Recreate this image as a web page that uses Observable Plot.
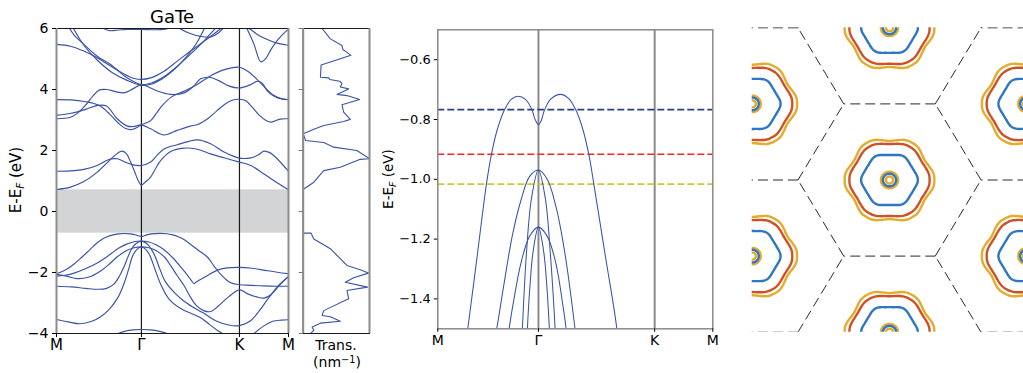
<!DOCTYPE html>
<html><head><meta charset="utf-8">
<script src="https://cdn.jsdelivr.net/npm/d3@7"></script>
<script src="https://cdn.jsdelivr.net/npm/@observablehq/plot@0.6"></script>
<style>
html,body{margin:0;padding:0;background:#fff;overflow:hidden;}
#root{position:relative;width:1023px;height:373px;overflow:hidden;font-family:"DejaVu Sans",sans-serif;color:#000;}
.lbl{position:absolute;white-space:nowrap;line-height:1;}
.sub{font-size:0.7em;font-style:italic;position:relative;top:0.28em;}
.sup{font-size:0.7em;position:relative;top:-0.45em;}
</style></head>
<body><div id="root"></div>
<script>
// ---------- path labels ----------
const kLabels = ["M", "Γ", "K", "M"];
const kTicks = [0, 0.5774, 1.2440, 1.5774];
const yTicksFull = [-4, -2, 0, 2, 4, 6];
const yTicksZoom = [-1.4, -1.2, -1.0, -0.8, -0.6];
const bandGap = [-0.71, 0.71];
const fermiLevels = [-0.767, -0.916, -1.016];

// ---------- valence bands [k, E] ----------
const vA = [[0,-2.04],[0.06,-1.92],[0.12,-1.72],[0.172,-1.5],[0.226,-1.256],[0.279,-1.016],[0.308,-0.916],[0.34,-0.836],[0.384,-0.766],[0.421,-0.733],[0.461,-0.722],[0.503,-0.733],[0.541,-0.769],[0.556,-0.797],[0.577,-0.817],[0.595,-0.801],[0.608,-0.775],[0.646,-0.733],[0.704,-0.716],[0.751,-0.730],[0.790,-0.766],[0.828,-0.825],[0.866,-0.916],[0.895,-1.016],[0.962,-1.26],[1.027,-1.5],[1.07,-1.78],[1.12,-2.08],[1.18,-2.33],[1.244,-2.40],[1.32,-2.42],[1.41,-2.44],[1.50,-2.45],[1.577,-2.45]];
const vB1 = [[0,-2.12],[0.05,-2.10],[0.12,-2.02],[0.2,-1.87],[0.28,-1.68],[0.338,-1.5],[0.377,-1.36],[0.427,-1.19],[0.477,-1.07],[0.527,-0.99],[0.577,-0.969],[0.627,-0.999],[0.677,-1.09],[0.727,-1.24],[0.787,-1.5],[0.85,-1.85],[0.90,-2.15],[0.92,-2.28],[0.935,-2.36],[0.95,-2.31],[1.02,-2.12],[1.09,-1.93],[1.16,-1.85],[1.244,-1.83],[1.33,-1.86],[1.42,-1.93],[1.50,-1.99],[1.577,-2.04]];
const vC1 = [[0,-2.06],[0.07,-2.12],[0.14,-2.2],[0.22,-2.15],[0.30,-1.95],[0.36,-1.72],[0.409,-1.5],[0.437,-1.40],[0.477,-1.28],[0.527,-1.19],[0.577,-1.16],[0.627,-1.19],[0.677,-1.28],[0.717,-1.42],[0.736,-1.5],[0.78,-1.8],[0.82,-2.1],[0.87,-2.45],[0.91,-2.8],[0.95,-3.08],[1.0,-3.25],[1.048,-3.28],[1.1,-3.1],[1.17,-2.8],[1.244,-2.57],[1.30,-2.7],[1.36,-2.8],[1.41,-2.84],[1.46,-2.72],[1.52,-2.4],[1.577,-2.12]];
const vB2 = [[0,-2.45],[0.1,-2.47],[0.2,-2.52],[0.28,-2.55],[0.34,-2.52],[0.39,-2.38],[0.43,-2.1],[0.46,-1.8],[0.485,-1.5],[0.507,-1.26],[0.537,-1.065],[0.577,-0.969],[0.617,-1.065],[0.647,-1.26],[0.673,-1.5],[0.70,-1.85],[0.74,-2.3],[0.80,-2.65],[0.87,-2.95],[0.95,-3.2],[1.0,-3.33],[1.09,-3.6],[1.17,-3.72],[1.244,-3.74],[1.32,-3.58],[1.38,-3.25],[1.44,-2.85],[1.51,-2.42],[1.577,-2.14]];
const vC2 = [[0,-3.54],[0.08,-3.62],[0.16,-3.68],[0.24,-3.6],[0.30,-3.45],[0.36,-3.2],[0.42,-2.8],[0.46,-2.35],[0.49,-1.9],[0.514,-1.5],[0.527,-1.37],[0.547,-1.24],[0.577,-1.16],[0.607,-1.24],[0.627,-1.37],[0.640,-1.5],[0.67,-1.9],[0.71,-2.4],[0.77,-2.9],[0.85,-3.2],[0.92,-3.35],[0.98,-3.48],[1.04,-3.7],[1.10,-3.92],[1.15,-4.05],[1.2,-4.2]];
const vC2b = [[1.30,-4.2],[1.343,-4.0],[1.41,-3.75],[1.47,-3.6],[1.53,-3.56],[1.577,-3.55]];
const vD = [[0.38,-4.15],[0.42,-4.0],[0.47,-3.92],[0.52,-3.88],[0.577,-3.87],[0.64,-3.88],[0.70,-3.93],[0.75,-4.0],[0.79,-4.15]];

// ---------- conduction bands [k, E] ----------
const c1 = [[0,0.72],[0.095,0.80],[0.186,0.98],[0.277,1.29],[0.368,1.71],[0.42,1.93],[0.447,1.98],[0.475,1.9],[0.504,1.62],[0.53,1.32],[0.552,1.05],[0.577,0.86],[0.60,0.95],[0.64,1.13],[0.675,1.42],[0.708,1.67],[0.776,1.97],[0.867,2.08],[0.958,2.04],[1.048,1.89],[1.139,1.76],[1.244,1.62],[1.321,1.51],[1.411,1.23],[1.50,0.94],[1.577,0.72]];
const c2 = [[0,1.32],[0.095,1.33],[0.186,1.38],[0.277,1.51],[0.34,1.67],[0.368,1.72],[0.413,1.73],[0.458,1.64],[0.52,1.53],[0.577,1.51],[0.64,1.62],[0.685,1.85],[0.731,2.05],[0.821,2.19],[0.90,2.3],[0.958,2.35],[1.048,2.22],[1.139,1.95],[1.244,1.75],[1.321,1.76],[1.37,1.85],[1.411,1.98],[1.45,1.93],[1.50,1.73],[1.577,1.32]];
const u1 = [[0,3.67],[0.1,3.66],[0.2,3.6],[0.25,3.55],[0.30,3.45],[0.36,3.2],[0.42,2.9],[0.47,2.72],[0.515,2.69],[0.55,2.76],[0.577,2.84],[0.64,2.98],[0.685,3.26],[0.72,3.48],[0.78,3.75],[0.87,3.95],[0.94,4.12],[1.0,4.3],[1.06,4.48],[1.12,4.62],[1.19,4.71],[1.244,4.73],[1.30,4.6],[1.36,4.35],[1.42,4.05],[1.48,3.8],[1.53,3.7],[1.577,3.67]];
const u2 = [[0,3.15],[0.1,3.22],[0.2,3.35],[0.28,3.48],[0.34,3.46],[0.413,3.04],[0.481,2.80],[0.53,2.79],[0.577,2.84],[0.64,2.71],[0.731,2.51],[0.82,2.66],[0.91,2.80],[0.96,2.85],[1.03,3.05],[1.09,3.3],[1.14,3.5],[1.19,3.64],[1.244,3.68],[1.29,3.62],[1.33,3.42],[1.38,3.15],[1.42,3.0],[1.46,2.93],[1.52,3.03],[1.577,3.04]];
const u3 = [[0,3.04],[0.1,3.1],[0.15,3.25],[0.2,3.5],[0.25,3.8],[0.29,3.98],[0.34,4.0],[0.40,3.93],[0.458,3.89],[0.52,4.02],[0.577,4.16],[0.64,4.05],[0.685,3.95],[0.776,3.84],[0.867,3.89],[0.93,4.1],[0.98,4.35],[1.04,4.4],[1.10,4.3],[1.17,4.12],[1.244,4.05],[1.32,4.16],[1.366,4.27],[1.40,4.2],[1.434,3.95],[1.48,3.78],[1.53,3.69],[1.577,3.67]];
const u4 = [[0,5.48],[0.095,5.42],[0.186,5.26],[0.277,5.04],[0.368,4.77],[0.458,4.51],[0.53,4.36],[0.577,4.33],[0.64,4.38],[0.731,4.6],[0.821,4.93],[0.912,5.26],[1.003,5.58],[1.094,5.91],[1.13,6.05]];
const u5 = [[0.084,6.05],[0.12,5.78],[0.186,5.48],[0.277,5.09],[0.368,4.82],[0.481,4.38],[0.577,4.16],[0.65,4.22],[0.74,4.45],[0.83,4.8],[0.92,5.2],[1.0,5.58],[1.06,5.9],[1.09,6.05]];
const u6 = [[0.11,6.05],[0.186,5.45],[0.28,4.95],[0.38,4.55],[0.48,4.3],[0.577,4.14],[0.65,4.18],[0.72,4.35],[0.80,4.65],[0.88,5.05],[0.95,5.5],[0.99,5.85],[1.01,6.05]];
const u7 = [[0.30,6.05],[0.36,5.93],[0.42,5.95],[0.48,5.97],[0.577,5.97],[0.66,5.96],[0.74,5.98],[0.80,6.05]];
const u8 = [[0.82,6.05],[0.9,5.85],[0.98,5.74],[1.05,5.72],[1.10,5.85],[1.14,6.05]];
const u9 = [[1.29,6.05],[1.343,5.48],[1.389,4.91],[1.42,5.0],[1.457,5.3],[1.50,5.6],[1.547,5.85],[1.577,5.97]];
const u10 = [[1.28,6.05],[1.32,5.97],[1.36,5.82],[1.41,5.69],[1.5,5.52],[1.577,5.45]];

// ---------- transmission [E, T] ----------
const transmission = [[6.0,0.285],[5.66,0.41],[5.44,0.585],[5.30,0.60],[5.26,0.635],[5.12,0.72],[4.9,0.41],[4.8,0.27],[4.4,0.26],[4.38,0.385],[4.33,0.40],[4.27,0.55],[4.2,0.585],[4.08,0.56],[4.02,0.685],[3.84,0.51],[3.80,0.66],[3.67,0.85],[3.50,0.585],[3.26,0.61],[3.02,0.71],[2.95,0.61],[2.82,0.31],[2.7,0.16],[2.55,0],[2.33,0.035],[2.26,0.31],[2.11,0.46],[2.0,0.81],[1.73,1.0],[1.71,0.86],[1.45,0.56],[1.34,0.31],[0.96,0.16],[0.72,0],[-0.71,0],[-0.71,0.12],[-0.9,0.16],[-1.22,0.41],[-1.77,0.66],[-1.91,0.86],[-2.02,0.985],[-2.17,0.76],[-2.32,0.635],[-2.48,0.97],[-2.59,0.66],[-2.86,0.685],[-3.25,0.31],[-3.41,0.285],[-3.45,0.41],[-3.6,0.56],[-3.66,0.26],[-3.79,0.135],[-3.9,0.16],[-3.98,0.12],[-4.0,0.13]];

// ---------- Fermi contours: radius vs angle from Γ-K direction (deg) ----------
const contourTheta = [0, 5, 10, 15, 20, 25, 30];
const rYellowOuter = [0.490, 0.490, 0.485, 0.473, 0.460, 0.450, 0.445];
const rOrangeOuter = [0.438, 0.438, 0.434, 0.426, 0.418, 0.412, 0.409];
const rBlueOuter   = [0.310, 0.308, 0.302, 0.295, 0.289, 0.286, 0.285];
const rYellowPocket = [0.094, 0.094, 0.094, 0.094, 0.094, 0.094, 0.094];
const rBluePocket   = [0.072, 0.072, 0.072, 0.072, 0.072, 0.072, 0.072];
const rYellowInner  = [0.040, 0.040, 0.040, 0.040, 0.040, 0.040, 0.040];

// ---------- styles ----------
const bandColor = "#3953a6";
const fermiColors = ["#2e3f86", "#f42a2a", "#c9c93a"];
const contourColors = {yellow: "#e5ab2a", orange: "#cf5224", blue: "#2f77c2"};
const font = "DejaVu Sans";

// ---------- build tables ----------
const bandList = [["vA",vA],["vB1",vB1],["vC1",vC1],["vB2",vB2],["vC2",vC2],["vC2b",vC2b],["vD",vD],
  ["c1",c1],["c2",c2],["u1",u1],["u2",u2],["u3",u3],["u4",u4],["u5",u5],["u6",u6],["u7",u7],["u8",u8],["u9",u9],["u10",u10]];
const bandRows = bandList.flatMap(([band, pts]) => pts.map(([k, E]) => ({band, k, E})));
const transRows = transmission.map(([E, T]) => ({E, T}));
const labelMap = new Map(kTicks.map((t, i) => [t, kLabels[i]]));

const root = document.getElementById("root");
function place(svg, left) {
  svg.style.position = "absolute";
  svg.style.left = left + "px";
  svg.style.top = "0px";
  svg.style.background = "transparent";
  svg.style.overflow = "visible";
  svg.style.fontFamily = font;
  root.appendChild(svg);
}

// ---------- Panel 1: band structure ----------
place(Plot.plot({
  width: 295, height: 373,
  marginLeft: 56, marginRight: 7, marginTop: 28, marginBottom: 40,
  x: {domain: [0, kTicks[3]], label: null},
  y: {domain: [-4, 6], label: null},
  marks: [
    Plot.rect([0], {x1: kTicks[0], x2: kTicks[3], y1: bandGap[0], y2: bandGap[1], fill: "#d3d4d6"}),
    Plot.ruleX([kTicks[1], kTicks[2]], {stroke: "#1a1a1a", strokeWidth: 1.2}),
    Plot.line(bandRows, {x: "k", y: "E", z: "band", stroke: bandColor, strokeWidth: 1.15, curve: "catmull-rom", clip: true}),
    Plot.frame({stroke: "#1a1a1a", strokeWidth: 1}),
    Plot.ruleX([kTicks[0], kTicks[3]], {stroke: "#8c8c8c", strokeWidth: 2}),
    Plot.axisX({ticks: kTicks, tickFormat: d => labelMap.get(d), tickSize: 4, tickPadding: 2, fontSize: 15, label: null}),
    Plot.axisY({ticks: yTicksFull, tickFormat: d3.format("d"), tickSize: 4, tickPadding: 4, fontSize: 14, label: null})
  ]
}), 0);

// ---------- Panel 2: transmission ----------
place(Plot.plot({
  width: 80, height: 373,
  marginLeft: 7.7, marginRight: 6, marginTop: 28, marginBottom: 40,
  x: {domain: [0, 1], axis: null},
  y: {domain: [-4, 6], label: null},
  marks: [
    Plot.line(transRows, {x: "T", y: "E", stroke: bandColor, strokeWidth: 1.1, clip: true}),
    Plot.frame({stroke: "#1a1a1a", strokeWidth: 1}),
    Plot.ruleX([0, 1], {stroke: "#8c8c8c", strokeWidth: 2}),
    Plot.axisY({ticks: yTicksFull, tickFormat: () => "", tickSize: 4, stroke: "#777", label: null})
  ]
}), 295);

// ---------- Panel 3: zoomed valence band ----------
place(Plot.plot({
  width: 345, height: 373,
  marginLeft: 57.3, marginRight: 12.7, marginTop: 29.3, marginBottom: 44.7,
  x: {domain: [0, kTicks[3]], label: null},
  y: {domain: [-1.5, -0.5], label: null},
  marks: [
    Plot.ruleX([kTicks[1], kTicks[2]], {stroke: "#8a8a8a", strokeWidth: 2}),
    ...fermiLevels.map((E, i) => Plot.ruleY([E], {stroke: fermiColors[i], strokeWidth: 1.6, strokeDasharray: "7,3"})),
    Plot.line(bandRows, {x: "k", y: "E", z: "band", stroke: bandColor, strokeWidth: 1.05, curve: "catmull-rom", clip: true}),
    Plot.frame({stroke: "#8a8a8a", strokeWidth: 1.5}),
    Plot.axisX({ticks: kTicks, tickFormat: d => labelMap.get(d), tickSize: 3.5, tickPadding: 3, fontSize: 14, label: null}),
    Plot.axisY({ticks: yTicksZoom, tickFormat: d3.format(".1f"), tickSize: 3.5, tickPadding: 3.5, fontSize: 13, label: null})
  ]
}), 380);

// ---------- Panel 4: Fermi contours ----------
const s3 = Math.sqrt(3);
const centers = [];
for (let i = -3; i <= 3; i++) for (let j = -3; j <= 3; j++) centers.push([1.5 * i, s3 / 2 * i + s3 * j]);
const keyOf = p => p.map(v => (Math.round(v * 1000) / 1000 + 0).toFixed(3)).join(",");
const edgeMap = new Map();
for (const [cx, cy] of centers) {
  for (let m = 0; m < 6; m++) {
    const a1 = Math.PI / 3 * m, a2 = Math.PI / 3 * (m + 1);
    const p = [cx + Math.cos(a1), cy + Math.sin(a1)], q = [cx + Math.cos(a2), cy + Math.sin(a2)];
    const kp = keyOf(p), kq = keyOf(q);
    const key = kp < kq ? kp + "|" + kq : kq + "|" + kp;
    if (Math.abs(p[0]) < 2.6 && Math.abs(q[0]) < 2.6 && Math.abs(p[1]) < 2.8 && Math.abs(q[1]) < 2.8 && !edgeMap.has(key))
      edgeMap.set(key, {x1: p[0], y1: p[1], x2: q[0], y2: q[1]});
  }
}
const bzEdges = [...edgeMap.values()];
const pocketCenters = centers.filter(([x, y]) => Math.abs(x) <= 2 && Math.abs(y) <= 2.3);
function ringRows(table, tag) {
  const rows = [];
  pocketCenters.forEach(([cx, cy], ci) => {
    for (let phi = 0; phi < 360; phi += 5) {
      let t = phi % 60; if (t > 30) t = 60 - t;
      const r = table[contourTheta.indexOf(t)];
      const a = phi * Math.PI / 180;
      rows.push({id: tag + ci, x: cx + r * Math.cos(a), y: cy + r * Math.sin(a)});
    }
  });
  return rows;
}
const ringStyle = (color) => ({x: "x", y: "y", z: "id", stroke: color, strokeWidth: 2.4, curve: "catmull-rom-closed", clip: true});
place(Plot.plot({
  width: 290, height: 373,
  marginLeft: 6.7, marginRight: 8.7, marginTop: 27.3, marginBottom: 41.3,
  x: {domain: [-1.5, 1.5], axis: null},
  y: {domain: [-s3, s3], axis: null},
  marks: [
    Plot.link(bzEdges, {x1: "x1", y1: "y1", x2: "x2", y2: "y2", stroke: "#2a2a2a", strokeWidth: 1, strokeDasharray: "10,5", clip: true}),
    Plot.line(ringRows(rYellowOuter, "yo"), ringStyle(contourColors.yellow)),
    Plot.line(ringRows(rOrangeOuter, "oo"), ringStyle(contourColors.orange)),
    Plot.line(ringRows(rBlueOuter, "bo"), ringStyle(contourColors.blue)),
    Plot.line(ringRows(rYellowPocket, "yp"), ringStyle(contourColors.yellow)),
    Plot.line(ringRows(rBluePocket, "bp"), ringStyle(contourColors.blue)),
    Plot.line(ringRows(rYellowInner, "yi"), ringStyle(contourColors.yellow))
  ]
}), 745);

// ---------- text labels ----------
function addLabel(html, css) {
  const d = document.createElement("div");
  d.className = "lbl"; d.innerHTML = html;
  Object.assign(d.style, css);
  root.appendChild(d);
}
addLabel("GaTe", {left: "172px", top: "7.5px", fontSize: "18px", transform: "translateX(-50%)"});
addLabel('E-E<span class="sub">F</span> (eV)', {left: "16px", top: "180px", fontSize: "15px", transform: "translate(-50%,-50%) rotate(-90deg)"});
addLabel('E-E<span class="sub">F</span> (eV)', {left: "389px", top: "179px", fontSize: "13.5px", transform: "translate(-50%,-50%) rotate(-90deg)"});
addLabel("Trans.", {left: "336px", top: "338px", fontSize: "14px", transform: "translateX(-50%)"});
addLabel('(nm<span class="sup">−1</span>)', {left: "337px", top: "355px", fontSize: "14px", transform: "translateX(-50%)"});
</script>
</body></html>
